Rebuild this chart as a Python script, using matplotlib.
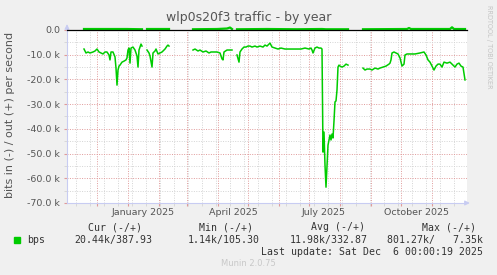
import matplotlib
matplotlib.use("Agg")
import matplotlib.pyplot as plt
import matplotlib.dates as mdates
import numpy as np

# window: 400 days ending Dec 6 2025
start = np.datetime64("2024-11-01")
end = np.datetime64("2025-12-06")

# bits in (drawn negative), k bps, as (day offset from start, value) per data segment
in_seg1 = [(17, -7.7), (19, -9.3), (21, -8.9), (23, -9.3), (26, -8.9), (28, -8.5), (30, -7.7),
           (32, -8.9), (34, -9.3), (36, -9.7), (38, -8.9), (40, -8.9), (42, -10.1), (43, -12.1),
           (44, -8.9), (46, -8.9), (48, -10.9), (49, -15.4), (50, -22.3), (51, -16.2), (52, -14.6),
           (53, -14.2), (55, -13.0), (57, -12.6), (59, -12.1), (60, -11.3), (61, -8.1), (62, -7.3),
           (63, -13.4), (64, -7.3), (66, -6.9), (68, -8.1), (70, -10.5), (71, -15.0), (72, -8.1),
           (74, -5.7), (75, -6.5)]
in_seg2 = [(80, -8.1), (82, -9.3), (83, -10.5), (85, -15.0), (86, -9.3), (88, -8.5), (89, -7.7),
           (91, -9.7), (93, -9.3), (95, -8.9), (96, -8.5), (98, -7.7), (100, -6.5), (101, -6.1),
           (102, -6.5)]
in_seg3 = [(126, -8.1), (128, -7.7), (131, -8.5), (133, -8.1), (136, -8.9), (139, -8.5),
           (142, -9.3), (144, -8.9), (147, -8.9), (150, -8.9), (153, -9.3), (155, -11.7),
           (156, -12.1), (157, -8.9), (160, -8.1), (163, -8.1), (165, -8.1)]
in_seg4 = [(170, -10.1), (172, -13.0), (173, -8.9), (175, -7.7), (177, -6.9), (179, -6.9),
           (181, -6.5), (183, -6.5), (185, -6.9), (188, -6.5), (190, -6.9), (193, -6.5),
           (196, -6.9), (198, -6.1), (200, -6.5), (203, -5.3), (205, -6.9), (208, -7.3),
           (211, -7.7), (214, -7.3), (218, -7.7), (222, -7.7), (226, -7.7), (230, -7.7),
           (234, -7.7), (238, -7.3), (242, -7.7), (244, -7.3), (245, -8.1), (246, -9.3),
           (248, -7.3), (250, -6.9), (252, -7.3), (254, -7.3), (255, -7.7), (256, -49.4),
           (257, -41.3), (258, -54.7), (259, -63.6), (260, -54.7), (261, -46.6), (262, -44.5),
           (263, -42.5), (264, -44.5), (265, -42.1), (266, -43.7), (267, -36.8), (268, -29.1),
           (269, -28.7), (270, -24.3), (271, -15.0), (272, -14.2), (273, -14.6), (275, -15.0),
           (277, -14.6), (279, -13.8), (281, -14.2)]
in_seg5 = [(296, -15.4), (298, -16.2), (300, -15.8), (303, -15.8), (305, -16.2), (308, -15.4),
           (311, -15.8), (313, -15.4), (316, -15.0), (319, -14.6), (322, -13.8), (323, -13.4),
           (324, -12.1), (325, -9.3), (327, -8.9), (329, -9.3), (331, -9.7), (333, -11.3),
           (335, -14.6), (337, -13.8), (338, -10.1), (340, -9.7), (343, -9.7), (348, -9.7),
           (353, -9.3), (357, -8.9), (359, -10.1), (361, -12.1), (363, -13.0), (365, -14.6),
           (367, -16.2), (369, -14.6), (371, -13.8), (373, -13.8), (375, -15.0), (377, -13.0),
           (380, -13.4), (383, -13.0), (385, -13.8), (388, -15.0), (390, -13.8), (392, -13.4),
           (394, -14.6), (396, -15.0), (398, -20.2)]

# bits out (positive, tiny), k bps
out_seg1 = [(17, 0.4), (40, 0.4), (60, 0.4), (75, 0.3)]
out_seg2 = [(80, 0.4), (102, 0.4)]
out_seg3 = [(126, 0.3), (150, 0.4), (160, 0.6), (163, 1.0), (165, 0.4)]
out_seg4 = [(170, 0.3), (200, 0.4), (230, 0.3), (255, 0.4), (259, 0.3), (281, 0.3)]
out_seg5 = [(296, 0.3), (340, 0.4), (342, 0.8), (344, 0.4), (383, 0.4), (385, 1.1),
            (387, 0.4), (398, 0.39)]

y_ticks = [0, -10, -20, -30, -40, -50, -60, -70]
month_labels = ["January 2025", "April 2025", "July 2025", "October 2025"]
month_label_dates = ["2025-01-16", "2025-04-16", "2025-07-16", "2025-10-16"]

legend_cols = ["Cur (-/+)", "Min (-/+)", "Avg (-/+)", "Max (-/+)"]
legend_vals = ["20.44k/387.93", "1.14k/105.30", "11.98k/332.87", "801.27k/   7.35k"]

BG = "#f0f0f0"
GREEN = "#00cc00"
MAJ = "#e09a9a"
MIN = "#d4d4d4"
AXC = "#c8ccf2"
TXT = "#555555"


def to_xy(segments):
    xs, ys = [], []
    for seg in segments:
        for d, v in seg:
            xs.append(start + np.timedelta64(d, "D"))
            ys.append(v)
        # break the line between segments
        xs.append(start + np.timedelta64(seg[-1][0] + 1, "D"))
        ys.append(np.nan)
    return np.array(xs), np.array(ys)


fig = plt.figure(figsize=(4.97, 2.75), dpi=100, facecolor=BG)
ax = fig.add_axes([67 / 497, 72 / 275, 400 / 497, 173 / 275])
ax.set_facecolor("white")

in_x, in_y = to_xy([in_seg1, in_seg2, in_seg3, in_seg4, in_seg5])
out_x, out_y = to_xy([out_seg1, out_seg2, out_seg3, out_seg4, out_seg5])

ax.plot(in_x, in_y, color=GREEN, lw=1.1, zorder=3)
ax.plot(out_x, out_y, color=GREEN, lw=1.6, zorder=3, clip_on=False)
ax.axhline(0, color="black", lw=0.9, zorder=4, clip_on=False)

ax.set_xlim(start, end)
ax.set_ylim(-70, 0)

# grid
months = np.arange(np.datetime64("2024-12"), np.datetime64("2025-12"), 1).astype("datetime64[D]")
biweek = np.arange(np.datetime64("2024-11-10"), end, 14)
ax.xaxis.set_major_locator(matplotlib.ticker.FixedLocator(mdates.date2num(months)))
ax.xaxis.set_minor_locator(matplotlib.ticker.FixedLocator(mdates.date2num(biweek)))
ax.set_yticks(y_ticks)
ax.set_yticks([-5, -15, -25, -35, -45, -55, -65], minor=True)
ax.grid(which="major", color=MAJ, ls=(0, (1, 1.5)), lw=0.7)
ax.grid(which="minor", color=MIN, ls=(0, (1, 1.5)), lw=0.7)
ax.set_axisbelow(True)

ax.set_xticklabels([])
ax.set_yticklabels(["0.0" if v == 0 else f"{v:.1f} k" for v in y_ticks], fontsize=6.8, color=TXT)
ax.tick_params(which="major", length=2, color=MAJ, pad=3)
ax.tick_params(which="minor", length=2, color=MIN)

for s in ["top", "right"]:
    ax.spines[s].set_visible(False)
for s in ["left", "bottom"]:
    ax.spines[s].set_color(AXC)
    ax.spines[s].set_linewidth(0.8)

ax.annotate("", xy=(0, 1.05), xytext=(0, 0.98), xycoords="axes fraction",
            arrowprops=dict(arrowstyle="-|>", color=AXC, lw=0.8, mutation_scale=7), annotation_clip=False)
ax.annotate("", xy=(1.014, 0), xytext=(0.99, 0), xycoords="axes fraction",
            arrowprops=dict(arrowstyle="-|>", color=AXC, lw=0.8, mutation_scale=7), annotation_clip=False)

for lab, d in zip(month_labels, month_label_dates):
    ax.text(np.datetime64(d), -72.2, lab, ha="center", va="top", fontsize=6.8, color=TXT)

fig.text(249 / 497, 1 - 18 / 275, "wlp0s20f3 traffic - by year", ha="center", va="center",
         fontsize=9, color=TXT)
fig.text(10 / 497, 1 - 115 / 275, "bits in (-) / out (+) per second", rotation=90,
         ha="center", va="center", fontsize=8, color=TXT)
fig.text(489 / 497, 1 - 5 / 275, "RRDTOOL / TOBI OETIKER", rotation=270, ha="center", va="top",
         fontsize=4.7, color="#c4c4c4")

# legend
mono = dict(family="DejaVu Sans Mono", fontsize=7.1, color="#333333")
col_x = [142, 253, 365, 476]
val_x = [152, 260, 368, 483]
for c, x in zip(legend_cols, col_x):
    fig.text(x / 497, 1 - 227 / 275, c, ha="right", va="center", **mono)
fig.add_artist(plt.Rectangle((14 / 497, 1 - 243 / 275), 6 / 497, 6 / 275, color=GREEN,
                             transform=fig.transFigure))
fig.text(27 / 497, 1 - 240 / 275, "bps", ha="left", va="center", **mono)
for v, x in zip(legend_vals, val_x):
    fig.text(x / 497, 1 - 240 / 275, v, ha="right", va="center", **mono)
fig.text(483 / 497, 1 - 252 / 275, "Last update: Sat Dec  6 00:00:19 2025", ha="right",
         va="center", **mono)
fig.text(248 / 497, 1 - 264 / 275, "Munin 2.0.75", ha="center", va="center", fontsize=6,
         color="#c8c8c8")

fig.savefig("out.png", dpi=100, facecolor=BG)
